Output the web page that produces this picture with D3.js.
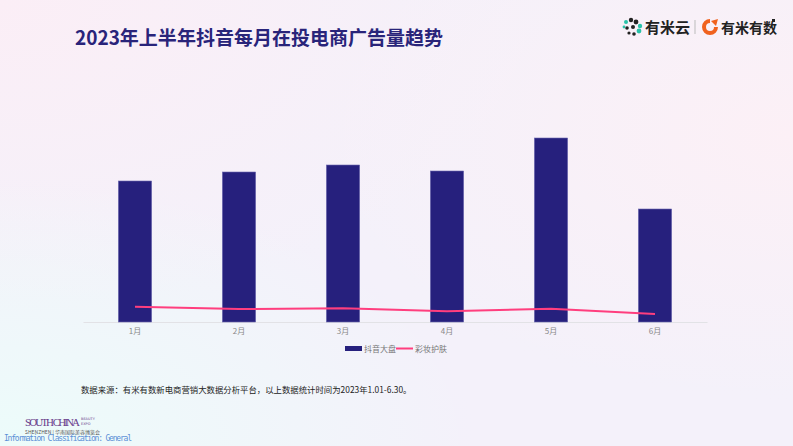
<!DOCTYPE html>
<html><head><meta charset="utf-8">
<script src="https://cdn.jsdelivr.net/npm/d3@7"></script>
<style>html,body{margin:0;padding:0;overflow:hidden;}svg{display:block;}</style>
</head><body>
<script>
const months = ["1月","2月","3月","4月","5月","6月"];
const seriesNames = ["抖音大盘","彩妆护肤"];
const douyinTotal = [141, 150, 157, 151, 184, 113];
const beautySkincare = [15.3, 13.0, 13.7, 10.7, 13.3, 8.0];
const titleText = "2023年上半年抖音每月在投电商广告量趋势";
const sourceText = "数据来源：有米有数新电商营销大数据分析平台，以上数据统计时间为2023年1.01-6.30。";

const W = 793, H = 446;
const svg = d3.select("body").append("svg").attr("width", W).attr("height", H);
const defs = svg.append("defs");

// background
const g1 = defs.append("radialGradient").attr("id","bgPink").attr("cx","0.0").attr("cy","0.0").attr("r","0.7");
g1.append("stop").attr("offset","0").attr("stop-color","#fbeef6");
g1.append("stop").attr("offset","1").attr("stop-color","#fbeef6").attr("stop-opacity",0);
const g2 = defs.append("radialGradient").attr("id","bgCyan").attr("cx","0.0").attr("cy","1.0").attr("r","0.6");
g2.append("stop").attr("offset","0").attr("stop-color","#ecfcfa");
g2.append("stop").attr("offset","1").attr("stop-color","#ecfcfa").attr("stop-opacity",0);
const g3 = defs.append("radialGradient").attr("id","bgRight").attr("cx","1.0").attr("cy","0.3").attr("r","0.6");
g3.append("stop").attr("offset","0").attr("stop-color","#fcf0f6");
g3.append("stop").attr("offset","1").attr("stop-color","#fcf0f6").attr("stop-opacity",0);
svg.append("rect").attr("width",W).attr("height",H).attr("fill","#f4f1fa");
svg.append("rect").attr("width",W).attr("height",H).attr("fill","url(#bgPink)");
svg.append("rect").attr("width",W).attr("height",H).attr("fill","url(#bgRight)");
svg.append("rect").attr("width",W).attr("height",H).attr("fill","url(#bgCyan)");

// title
svg.append("text").attr("x",75).attr("y",45)
  .attr("font-family","'Noto Sans CJK SC','Noto Sans',sans-serif")
  .attr("font-weight",700).attr("font-size",19.5).attr("fill","#29247a")
  .attr("textLength",368).attr("lengthAdjust","spacingAndGlyphs")
  .text(titleText);

// logos
const logo = svg.append("g");
const dots = [[626,22,2],[631,20,2.2],[636,22,2.4],[640,26,2.2],[627,28,1.8],[633,27,2],[639,31,2.4],[629,33,1.6],[634,34,1.8],[624,27,1.4]];
dots.forEach((d,i)=>logo.append("circle").attr("cx",d[0]).attr("cy",d[1]).attr("r",d[2])
  .attr("fill", i%3===0 ? "#29c2a8" : "#222"));
logo.append("text").attr("x",645).attr("y",33).attr("font-family","'Noto Sans CJK SC',sans-serif")
  .attr("font-weight",700).attr("font-size",15).attr("fill","#222").text("有米云");
logo.append("line").attr("x1",695).attr("x2",695).attr("y1",20).attr("y2",34).attr("stroke","#bbb").attr("stroke-width",1);
logo.append("path").attr("d","M710,19 A8,8 0 1 0 718,27 L714,27 A4,4 0 1 1 710,23 Z").attr("fill","#f0621e");
logo.append("path").attr("d","M711,21 L718,19 L716,26 Z").attr("fill","#f0621e");
logo.append("text").attr("x",721).attr("y",33).attr("font-family","'Noto Sans CJK SC',sans-serif")
  .attr("font-weight",700).attr("font-size",14).attr("fill","#222").text("有米有数");
logo.append("rect").attr("x",772).attr("y",19).attr("width",3).attr("height",3).attr("fill","#222");

// chart
const x = d3.scaleBand().domain(months).range([83,707]).paddingInner(0.68).paddingOuter(0.34);
const y = d3.scaleLinear().domain([0,200]).range([322,122]);

const axis = svg.append("g").attr("transform","translate(0,322)")
  .call(d3.axisBottom(x).tickSize(0).tickPadding(6));
axis.select(".domain").attr("stroke","#e2e2e6").attr("stroke-width",1.2);
axis.selectAll("text").attr("font-family","'Noto Sans CJK SC',sans-serif").attr("font-size",8).attr("fill","#888");

svg.append("g").selectAll("rect").data(douyinTotal).join("rect")
  .attr("x",(d,i)=>x(months[i])).attr("width",x.bandwidth())
  .attr("y",d=>y(d)).attr("height",d=>y(0)-y(d))
  .attr("fill","#26207d").attr("stroke","#6b68b0").attr("stroke-width",0.6);

const line = d3.line().x((d,i)=>x(months[i])+x.bandwidth()/2).y(d=>y(d));
svg.append("path").datum(beautySkincare).attr("d",line)
  .attr("fill","none").attr("stroke","#ff3e7e").attr("stroke-width",2);

// legend
const lg = svg.append("g");
lg.append("rect").attr("x",345).attr("y",346).attr("width",17).attr("height",5).attr("fill","#26207d");
lg.append("text").attr("x",364).attr("y",351.5).attr("font-family","'Noto Sans CJK SC',sans-serif")
  .attr("font-size",8).attr("fill","#777").text(seriesNames[0]);
lg.append("line").attr("x1",396).attr("x2",413).attr("y1",348.5).attr("y2",348.5).attr("stroke","#ff3e7e").attr("stroke-width",2);
lg.append("text").attr("x",415).attr("y",351.5).attr("font-family","'Noto Sans CJK SC',sans-serif")
  .attr("font-size",8).attr("fill","#777").text(seriesNames[1]);

// source
svg.append("text").attr("x",81).attr("y",393).attr("font-family","'Noto Sans CJK SC',sans-serif")
  .attr("font-size",8.4).attr("fill","#222").text(sourceText);

// bottom-left logo
const bl = svg.append("g");
bl.append("text").attr("x",25).attr("y",426).attr("font-family","'Liberation Serif',serif")
  .attr("font-size",11).attr("fill","#6a3e8c").attr("textLength",55).text("SOUTH CHINA");
bl.append("text").attr("x",81).attr("y",420).attr("font-family","'DejaVu Sans',sans-serif")
  .attr("font-size",3.5).attr("fill","#6a3e8c").text("BEAUTY");
bl.append("text").attr("x",81).attr("y",425).attr("font-family","'DejaVu Sans',sans-serif")
  .attr("font-size",3.5).attr("fill","#6a3e8c").text("EXPO");
bl.append("text").attr("x",25).attr("y",434).attr("font-family","'Noto Sans CJK SC',sans-serif")
  .attr("font-size",5).attr("fill","#555").text("SHENZHEN | 华南国际美容博览会");
bl.append("text").attr("x",4).attr("y",441).attr("font-family","'DejaVu Sans Mono','Liberation Mono',monospace")
  .attr("font-size",8).attr("fill","#5b8fd6").attr("textLength",128).text("Information Classification: General");
</script>
</body></html>
